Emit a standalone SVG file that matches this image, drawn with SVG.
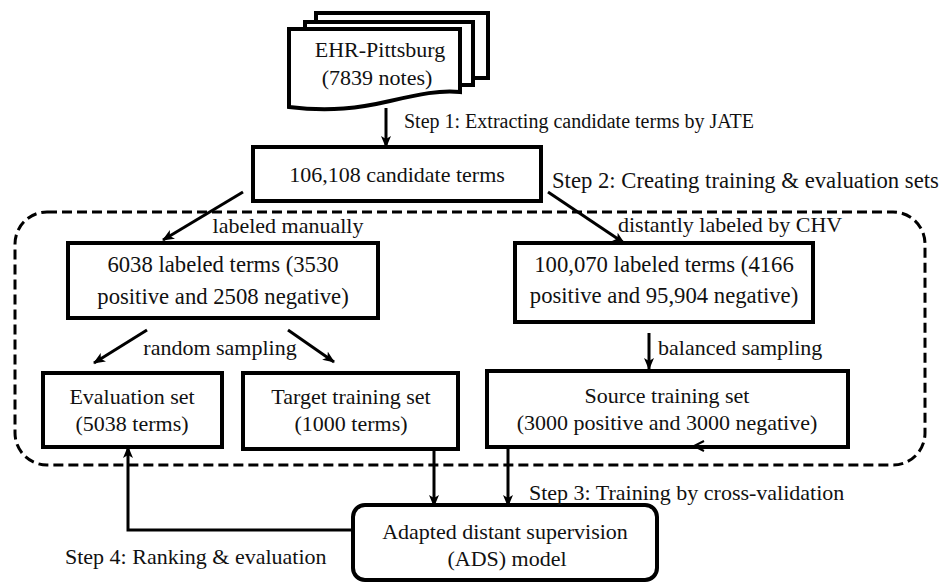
<svg xmlns="http://www.w3.org/2000/svg" width="939" height="583" viewBox="0 0 939 583">
<style>
text{font-family:"Liberation Serif","Times New Roman",serif;font-size:22px;fill:#111}
.c{text-anchor:middle}
.s1{font-size:20px}
.lg{font-size:22.7px}
.box{fill:#fff;stroke:#000;stroke-width:4}
.page{fill:#fff;stroke:#000;stroke-width:4;stroke-linejoin:miter}
.arr{fill:none;stroke:#000;stroke-width:3;marker-end:url(#ah)}
.dash{fill:none;stroke:#000;stroke-width:3;stroke-dasharray:10 5}
</style>
<defs>
<marker id="ah" viewBox="0 0 12 10" refX="11" refY="5" markerWidth="12" markerHeight="10" markerUnits="userSpaceOnUse" orient="auto">
<path d="M0,0 L12,5 L0,10 L3,5 z" fill="#000"/>
</marker>
</defs>
<rect width="939" height="583" fill="#fff"/>
<g id="container">
<rect class="dash" x="15" y="212" width="910" height="253" rx="32" ry="32"/>
</g>
<g id="ehr">
<path class="page" d="M316,22 V13 H488 V78 H473"/>
<path class="page" d="M305,29 V22 H473 V85 H460"/>
<path class="page" d="M289,29 H460 V92 C440,90 420,94 390,101 C360,108 330,112 289,107 Z"/>
<text class="c" x="380" y="57">EHR-Pittsburg</text>
<text class="c" x="377" y="85">(7839 notes)</text>
</g>
<g id="candidates">
<rect class="box" x="253" y="147" width="288" height="54"/>
<text class="c" x="397" y="182">106,108 candidate terms</text>
</g>
<g id="manual">
<rect class="box" x="68" y="243" width="310" height="75"/>
<text class="c lg" x="223" y="272">6038 labeled terms (3530</text>
<text class="c lg" x="223" y="304">positive and 2508 negative)</text>
</g>
<g id="distant">
<rect class="box" x="515" y="243" width="298" height="79"/>
<text class="c lg" x="664" y="272">100,070 labeled terms (4166</text>
<text class="c lg" x="664" y="303">positive and 95,904 negative)</text>
</g>
<g id="evaluation">
<rect class="box" x="43" y="373" width="179" height="74"/>
<text class="c" x="132" y="404">Evaluation set</text>
<text class="c" x="132" y="431">(5038 terms)</text>
</g>
<g id="target">
<rect class="box" x="243" y="373" width="215" height="76"/>
<text class="c" x="351" y="404">Target training set</text>
<text class="c" x="351" y="431">(1000 terms)</text>
</g>
<g id="source">
<rect class="box" x="487" y="371" width="361" height="76"/>
<text class="c" x="667" y="403">Source training set</text>
<text class="c" x="667" y="430">(3000 positive and 3000 negative)</text>
</g>
<g id="ads">
<rect class="box" x="353" y="505" width="304" height="75" rx="12" ry="12"/>
<text class="c" x="505" y="539">Adapted distant supervision</text>
<text class="c" x="507" y="566">(ADS) model</text>
</g>
<g id="connectors">
<line class="arr" x1="386" y1="108" x2="386" y2="147"/>
<line class="arr" x1="243" y1="192" x2="163" y2="240"/>
<line class="arr" x1="548" y1="192" x2="624" y2="243"/>
<line class="arr" x1="147" y1="330" x2="94" y2="363"/>
<line class="arr" x1="288" y1="330" x2="334" y2="362"/>
<line class="arr" x1="649" y1="333" x2="649" y2="369"/>
<line class="arr" x1="434" y1="449" x2="434" y2="506"/>
<line class="arr" x1="508" y1="447" x2="508" y2="506"/>
<polyline class="arr" points="353,530 128,530 128,447"/>
<path d="M704,441 L694,446 L704,451" fill="none" stroke="#000" stroke-width="2"/>
</g>
<g id="labels">
<text class="s1" x="404" y="128">Step 1: Extracting candidate terms by JATE</text>
<text class="lg" x="552" y="188">Step 2: Creating training &amp; evaluation sets</text>
<text class="c" x="288" y="233">labeled manually</text>
<text x="618" y="232">distantly labeled by CHV</text>
<text class="c" x="220" y="355">random sampling</text>
<text x="658" y="355">balanced sampling</text>
<text x="529" y="500">Step 3: Training by cross-validation</text>
<text x="65" y="564">Step 4: Ranking &amp; evaluation</text>
</g>
</svg>
